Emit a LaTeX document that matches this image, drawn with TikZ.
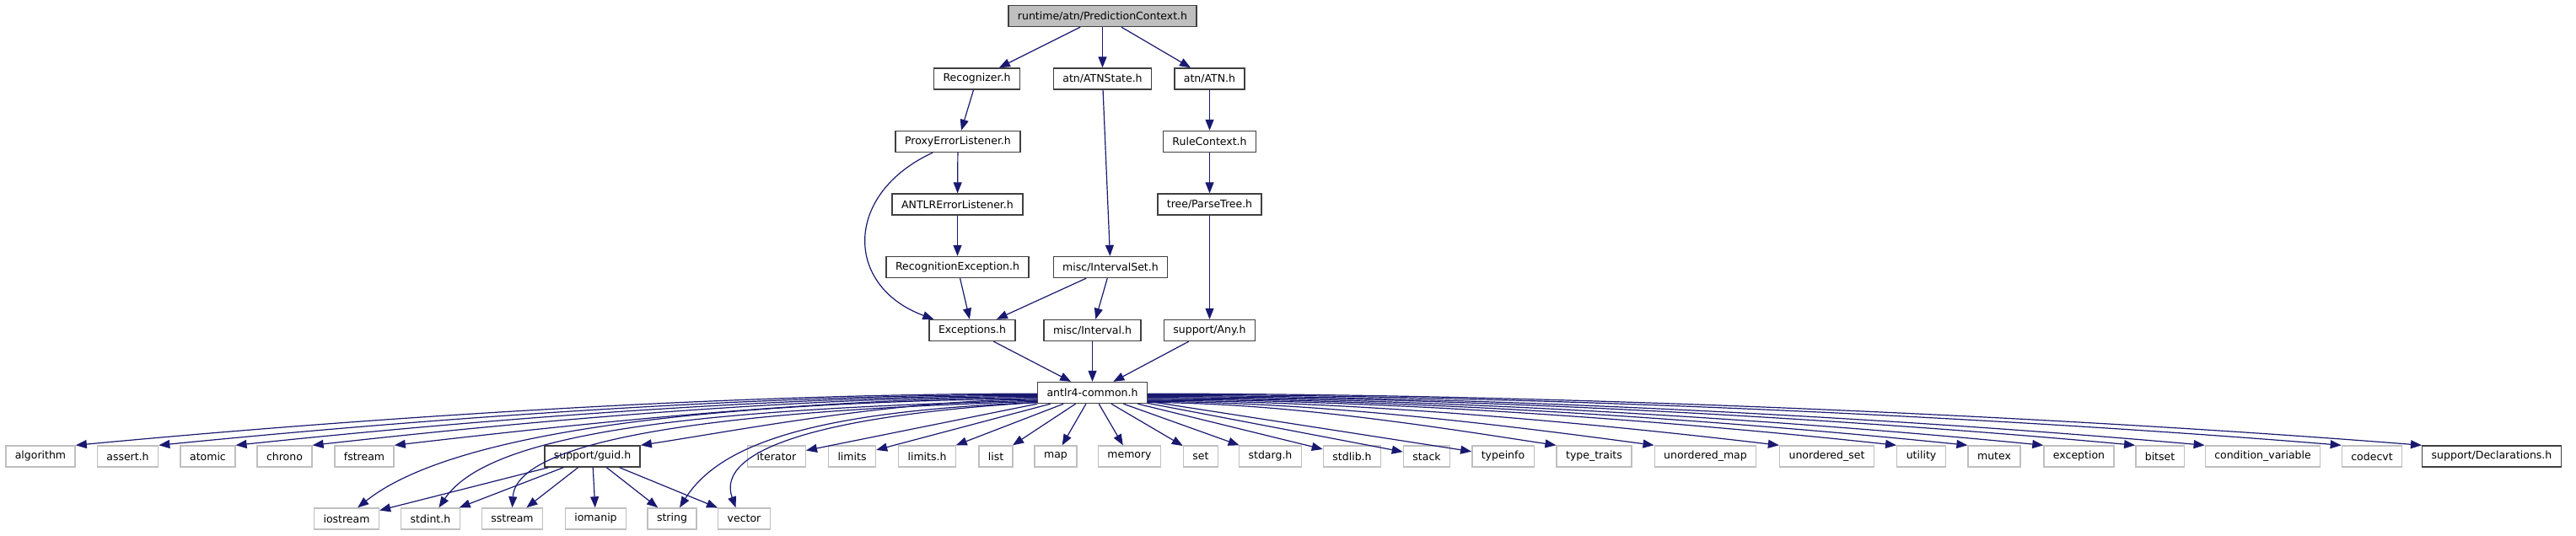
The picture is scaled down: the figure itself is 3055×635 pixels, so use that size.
\documentclass[tikz,border=0pt]{standalone}
\usepackage{fontspec}
\setmainfont{DejaVu Sans}
\definecolor{dxBlue}{HTML}{191970}
\definecolor{dxGray}{HTML}{BFBFBF}
\definecolor{dxDark}{HTML}{404040}
\usetikzlibrary{arrows.meta}

\begin{document}
\begin{tikzpicture}[x=1pt, y=1pt,
    every node/.style={font=\fontsize{12.5}{15}\selectfont, minimum height=25pt, inner xsep=11pt, inner ysep=0pt},
    hdr/.style={draw=dxDark, line width=1.4pt, fill=white},
    sys/.style={draw=dxGray, line width=1.4pt, fill=white},
    dep/.style={draw=dxBlue, line width=1.2pt, -{Triangle[length=13pt,width=10pt]}}]
    \useasboundingbox (0,0) rectangle (3055,-635);
    % Top of the graph
    \node[hdr, fill=dxGray] (pred) at (1307.5,-19) {runtime/atn/PredictionContext.h};
    \node[hdr] (recog) at (1158.5,-93.5) {Recognizer.h};
    \node[hdr] (atnstate) at (1307.5,-93.5) {atn/ATNState.h};
    \node[hdr] (atn) at (1434.5,-93.5) {atn/ATN.h};
    \node[hdr] (proxy) at (1136,-168) {ProxyErrorListener.h};
    \node[hdr] (rulectx) at (1434.5,-168) {RuleContext.h};
    \node[hdr] (antlrerr) at (1135.5,-242.5) {ANTLRErrorListener.h};
    \node[hdr] (parsetree) at (1434.5,-242.5) {tree/ParseTree.h};
    \node[hdr] (recogex) at (1135.5,-317) {RecognitionException.h};
    \node[hdr] (intervalset) at (1317,-317) {misc/IntervalSet.h};
    \node[hdr] (exceptions) at (1153,-392) {Exceptions.h};
    \node[hdr] (interval) at (1295.5,-392) {misc/Interval.h};
    \node[hdr] (any) at (1434.5,-392) {support/Any.h};
    \node[hdr] (common) at (1295.5,-466) {antlr4-common.h};
    % First row of includes
    \node[sys] (algorithm) at (48,-541.5) {algorithm};
    \node[sys] (asserth) at (151.5,-541.5) {assert.h};
    \node[sys] (atomic) at (246.5,-541.5) {atomic};
    \node[sys] (chrono) at (337.5,-541.5) {chrono};
    \node[sys] (fstream) at (432,-541.5) {fstream};
    \node[hdr] (guid) at (702.5,-541.5) {support/guid.h};
    \node[sys] (iterator) at (921,-541.5) {iterator};
    \node[sys] (limits) at (1010.5,-541.5) {limits};
    \node[sys] (limitsh) at (1099.5,-541.5) {limits.h};
    \node[sys] (list) at (1181,-541.5) {list};
    \node[sys] (map) at (1252,-541.5) {map};
    \node[sys] (memory) at (1339.5,-541.5) {memory};
    \node[sys] (set) at (1424,-541.5) {set};
    \node[sys] (stdarg) at (1506.5,-541.5) {stdarg.h};
    \node[sys] (stdlib) at (1603.5,-541.5) {stdlib.h};
    \node[sys] (stack) at (1692,-541.5) {stack};
    \node[sys] (typeinfo) at (1782.5,-541.5) {typeinfo};
    \node[sys] (typetraits) at (1890.5,-541.5) {type\_traits};
    \node[sys] (umap) at (2022.5,-541.5) {unordered\_map};
    \node[sys] (uset) at (2166.5,-541.5) {unordered\_set};
    \node[sys] (utility) at (2278.5,-541.5) {utility};
    \node[sys] (mutex) at (2365,-541.5) {mutex};
    \node[sys] (exception) at (2465.5,-541.5) {exception};
    \node[sys] (bitset) at (2561.5,-541.5) {bitset};
    \node[sys] (condvar) at (2683.5,-541.5) {condition\_variable};
    \node[sys] (codecvt) at (2813,-541.5) {codecvt};
    \node[hdr] (decl) at (2955,-541.5) {support/Declarations.h};
    % Second row of includes
    \node[sys] (iostream) at (411,-615.5) {iostream};
    \node[sys] (stdint) at (510.5,-615.5) {stdint.h};
    \node[sys] (sstream) at (607.5,-615.5) {sstream};
    \node[sys] (iomanip) at (706.5,-615.5) {iomanip};
    \node[sys] (string) at (797,-615.5) {string};
    \node[sys] (vector) at (882.5,-615.5) {vector};
    % Upper edges
    \draw[dep] (pred) -- (recog);
    \draw[dep] (pred) -- (atnstate);
    \draw[dep] (pred) -- (atn);
    \draw[dep] (recog) -- (proxy);
    \draw[dep] (proxy) -- (antlrerr);
    \draw[dep] ([xshift=-30pt]proxy.south) .. controls +(-106,-49) and +(-106,39) .. ([xshift=6pt]exceptions.north west);
    \draw[dep] (antlrerr) -- (recogex);
    \draw[dep] (recogex) -- (exceptions);
    \draw[dep] (atnstate) -- (intervalset);
    \draw[dep] (intervalset) -- (exceptions);
    \draw[dep] (intervalset) -- (interval);
    \draw[dep] (atn) -- (rulectx);
    \draw[dep] (rulectx) -- (parsetree);
    \draw[dep] (parsetree) -- (any);
    \draw[dep] (exceptions) -- (common);
    \draw[dep] (interval) -- (common);
    \draw[dep] (any) -- (common);
    % Fan to the left
    \draw[dep] (common.181) .. controls +(-400,0) and +(285,27) .. (algorithm.north east);
    \draw[dep] (common.182) .. controls +(-365,0) and +(260,26) .. (asserth.north east);
    \draw[dep] (common.183) .. controls +(-330,0) and +(237,25) .. (atomic.north east);
    \draw[dep] (common.184) .. controls +(-300,0) and +(214,24) .. (chrono.north east);
    \draw[dep] (common.185) .. controls +(-265,0) and +(190,22) .. (fstream.north east);
    \draw[dep] (common.187) .. controls +(-165,0) and +(117,18) .. (guid.north east);
    \draw[dep] (common.186) .. controls +(-450,-5) and +(100,80) .. (iostream.45);
    \draw[dep] (common.188) .. controls +(-400,-10) and +(60,90) .. ([xshift=10pt]stdint.north);
    \draw[dep] (common.189) .. controls +(-350,-10) and +(5,85) .. (sstream.north);
    \draw[dep] (common.190) .. controls +(-250,-10) and +(50,80) .. ([xshift=9pt]string.north);
    \draw[dep] (common.190) .. controls +(-250,-15) and +(-25,70) .. ([xshift=-10pt]vector.north);
    \draw[dep] (common) -- (iterator);
    \draw[dep] (common) -- (limits);
    \draw[dep] (common) -- (limitsh);
    \draw[dep] (common) -- (list);
    \draw[dep] (common) -- (map);
    \draw[dep] (common) -- (memory);
    % Fan to the right
    \draw[dep] (common) -- (set);
    \draw[dep] (common) -- (stdarg);
    \draw[dep] (common) -- (stdlib);
    \draw[dep] (common) -- (stack);
    \draw[dep] (common) -- (typeinfo);
    \draw[dep] (common.-10) .. controls +(169,0) and +(-120,18) .. (typetraits.north west);
    \draw[dep] (common.-9) .. controls +(209,0) and +(-149,20) .. (umap.north west);
    \draw[dep] (common.-8) .. controls +(261,0) and +(-186,22) .. (uset.north west);
    \draw[dep] (common.-7) .. controls +(310,0) and +(-221,24) .. (utility.north west);
    \draw[dep] (common.-6) .. controls +(340,0) and +(-242,25) .. (mutex.north west);
    \draw[dep] (common.-5) .. controls +(370,0) and +(-265,26) .. (exception.north west);
    \draw[dep] (common.-4) .. controls +(410,0) and +(-292,27) .. (bitset.north west);
    \draw[dep] (common.-3) .. controls +(438,0) and +(-313,28) .. (condvar.north west);
    \draw[dep] (common.-2) .. controls +(495,0) and +(-353,29) .. (codecvt.north west);
    \draw[dep] (common.-1) .. controls +(528,0) and +(-377,30) .. (decl.north west);
    % support/guid.h includes
    \draw[dep] (guid) -- (iostream);
    \draw[dep] (guid) -- (stdint);
    \draw[dep] (guid) -- (sstream);
    \draw[dep] (guid) -- (iomanip);
    \draw[dep] (guid) -- (string);
    \draw[dep] (guid) -- (vector);
  \end{tikzpicture}
\end{document}
